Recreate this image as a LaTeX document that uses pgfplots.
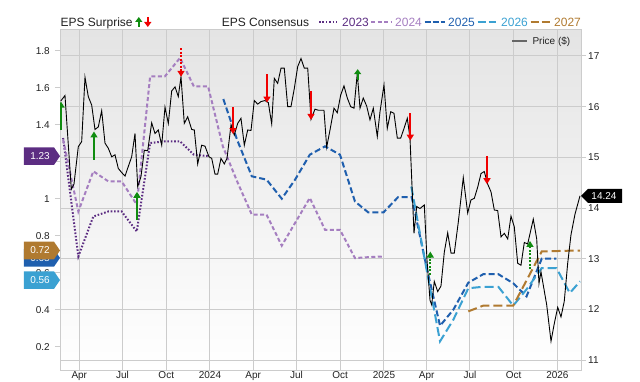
\documentclass[border=0pt]{standalone}
\usepackage{fontspec}
\setmainfont{Liberation Sans}
\usepackage{pgfplots}
\pgfplotsset{compat=1.18, set layers}
\usetikzlibrary{arrows.meta}
\definecolor{cA}{RGB}{92,45,130}
\definecolor{cB}{RGB}{165,126,192}
\definecolor{cC}{RGB}{31,95,174}
\definecolor{cD}{RGB}{59,161,210}
\definecolor{cE}{RGB}{176,122,48}
\definecolor{gridc}{RGB}{204,204,204}
\definecolor{bgtop}{RGB}{228,228,228}
\definecolor{upc}{RGB}{16,140,16}
\definecolor{dnc}{RGB}{240,0,0}
\definecolor{txt}{RGB}{34,34,34}
\newcommand{\tfont}{\fontsize{10bp}{12bp}\selectfont}
\newcommand{\lfont}{\fontsize{12bp}{14bp}\selectfont}
\begin{document}
\begin{tikzpicture}
\begin{axis}[
  name=eps, at={(0,0)}, anchor=south west,
  width=521bp, height=340bp, scale only axis,
  xmin=49.4, xmax=1145.6, ymin=0.074, ymax=1.912,
  axis background/.style={shade, top color=bgtop, middle color=white, bottom color=white},
  axis line style={draw=gridc, line width=1bp},
  xtick={90,181,273,365,456,547,639,731,821,912,1004,1096},
  xticklabels={Apr,Jul,Oct,2024,Apr,Jul,Oct,2025,Apr,Jul,Oct,2026},
  xmajorgrids, grid style={draw=gridc, line width=1bp},
  xtick style={draw=none},
  ytick={0.2,0.4,0.6,0.8,1,1.2,1.4,1.6,1.8},
  yticklabels={0.2,0.4,0.6,0.8,1,1.2,1.4,1.6,1.8},
  ytick pos=left, tick align=outside, major tick length=5bp,
  ytick style={draw=gridc, line width=1bp},
  xticklabel style={font=\tfont, text=txt, inner sep=0pt, yshift=3.5bp},
  yticklabel style={font=\tfont, text=txt, inner sep=0pt, xshift=-5bp},
]
\addplot[cA, line width=2bp, dash pattern=on 1.6bp off 1.8bp] coordinates {
(56,1.328) (88,0.688) (119.5,0.904) (151,0.931) (179,0.931) (211,0.823) (239,1.301) (270,1.310) (302,1.310) (331,1.238) (361,1.23)};
\addplot[cB, line width=2bp, dash pattern=on 4bp off 2.5bp] coordinates {
(56,1.319) (88,0.931) (119.5,1.148) (151,1.094) (179,1.094) (211,0.968) (239,1.661) (270,1.661) (302,1.761) (331,1.607) (361,1.607) (392,1.283) (422,1.094) (453,0.914) (484,0.914) (516,0.746) (544,0.869) (575,1.004) (607,0.832) (638.5,0.832) (670,0.679) (698,0.684) (730,0.688)};
\addplot[cC, line width=2bp, dash pattern=on 6bp off 3bp] coordinates {
(393,1.539) (422,1.319) (453,1.121) (484,1.103) (516,1.0) (544,1.103) (575,1.238) (607,1.283) (638.5,1.238) (670,0.985) (698,0.926) (730,0.926) (761,1.009) (789.4,1.009) (819.5,0.643) (849,0.313) (877,0.4) (908.5,0.546) (940,0.592) (971.6,0.592) (1003,0.543) (1031,0.472) (1063,0.676) (1094,0.676)};
\addplot[cD, line width=2bp, dash pattern=on 9bp off 4bp] coordinates {
(788.5,1.066) (819.5,0.634) (849,0.229) (877,0.346) (908.5,0.516) (940,0.524) (971.6,0.524) (1003,0.422) (1031,0.51) (1063,0.625) (1094,0.625) (1122,0.490) (1143.5,0.553)};
\addplot[cE, line width=2bp, dash pattern=on 9bp off 4bp] coordinates {
(908.5,0.391) (940,0.422) (971.6,0.422) (1003,0.422) (1031,0.558) (1063,0.715) (1094,0.717) (1122,0.719) (1143.5,0.719)};
\coordinate (bA) at (axis cs:49.4,1.23);
\coordinate (bC) at (axis cs:49.4,0.68);
\coordinate (bE) at (axis cs:49.4,0.72);
\coordinate (bD) at (axis cs:49.4,0.56);
\end{axis}
\begin{axis}[
  at={(0,0)}, anchor=south west,
  width=521bp, height=340bp, scale only axis,
  xmin=49.4, xmax=1145.6, ymin=10.803, ymax=17.513,
  axis y line*=right, axis x line=none,
  axis line style={draw=gridc, line width=1bp},
  ytick={11,12,13,14,15,16,17},
  yticklabels={11,12,13,14,15,16,17},
  ymajorgrids, grid style={draw=gridc, line width=1bp},
  tick align=outside, major tick length=5bp,
  ytick style={draw=gridc, line width=1bp},
  yticklabel style={font=\tfont, text=txt, inner sep=0pt, xshift=2bp},
]
\addplot[black, line width=0.9bp] coordinates {
(50.9,16.11) (59.9,16.22) (73.2,14.37) (78.8,14.47) (87.9,15.21) (95.0,15.31) (102.0,16.58) (108.9,16.20) (116.1,16.03) (123.0,15.55) (130.0,15.60) (137.1,15.92) (144.1,15.28) (151.0,15.18) (158.2,15.01) (165.1,15.05) (172.1,14.78) (179.2,14.70) (186.2,14.63) (193.1,14.82) (200.2,15.01) (207.2,15.47) (212.9,14.42) (219.8,14.62) (226.8,15.14) (233.9,15.13) (242.3,15.68) (249.3,15.47) (256.2,15.54) (263.4,15.24) (270.3,15.99) (277.3,15.67) (284.4,16.31) (291.4,16.39) (298.3,16.20) (304.0,16.59) (310.9,15.67) (318.1,15.80) (326.5,15.55) (332.0,15.54) (339.1,14.87) (347.5,15.24) (354.5,15.22) (362.9,15.01) (368.6,14.98) (375.5,14.67) (381.2,14.67) (388.1,14.98) (395.1,14.87) (400.8,14.98) (409.2,15.64) (416.1,15.44) (423.3,15.67) (430.2,15.77) (437.2,15.24) (444.3,15.54) (451.3,15.53) (458.2,16.12) (465.4,16.05) (472.3,16.10) (480.7,16.12) (487.7,16.08) (494.8,15.66) (500.3,16.56) (507.4,16.46) (514.4,16.76) (521.3,16.76) (528.5,16.00) (535.4,16.00) (542.4,16.36) (549.5,16.79) (556.5,16.95) (563.4,16.76) (570.6,16.76) (577.5,15.75) (585.9,15.95) (592.9,15.93) (604.8,15.93) (610.5,15.20) (617.5,15.54) (625.9,15.97) (632.8,15.88) (640.0,16.23) (646.9,16.41) (653.9,16.17) (661.0,16.00) (668.0,15.97) (674.9,16.66) (680.6,15.97) (687.5,16.17) (694.7,16.01) (701.6,15.74) (708.6,15.97) (717.0,15.41) (722.7,15.90) (731.1,16.43) (738.0,15.57) (745.2,15.90) (752.1,15.87) (759.1,15.38) (766.2,15.38) (773.2,15.57) (780.1,15.77) (785.8,15.38) (794.2,13.50) (799.9,14.03) (806.8,13.99) (815.9,14.06) (821.6,12.97) (827.9,12.18) (831.4,12.09) (836.9,12.55) (844.1,12.35) (851.0,12.46) (858.0,13.13) (865.1,13.51) (872.1,13.11) (879.0,13.11) (887.4,13.72) (897.9,14.60) (907.2,13.90) (914.1,14.16) (921.1,14.19) (928.2,14.41) (935.2,14.68) (942.1,14.72) (949.3,14.47) (956.2,14.32) (963.2,13.96) (970.3,13.95) (977.3,13.43) (984.2,13.50) (991.4,13.39) (998.3,13.84) (1005.2,13.63) (1012.4,12.91) (1019.3,12.87) (1026.3,13.32) (1033.4,13.29) (1045.2,13.78) (1052.4,13.39) (1057.2,12.51) (1061.4,12.74) (1073.4,12.09) (1082.5,11.37) (1089.4,11.72) (1096.6,12.04) (1103.5,11.85) (1110.4,12.16) (1117.6,12.91) (1124.5,13.47) (1133.0,13.88) (1143.5,14.24)};
% EPS surprise arrows
\addplot[upc, line width=2bp, -{Triangle[width=7bp,length=6bp]}] coordinates {(51.5,15.54) (51.5,16.10)};
\addplot[upc, line width=2bp, -{Triangle[width=7bp,length=6bp]}] coordinates {(120.9,14.95) (120.9,15.51)};
\addplot[upc, line width=2bp, -{Triangle[width=7bp,length=6bp]}] coordinates {(211.4,13.76) (211.4,14.32)};
\addplot[dnc, line width=2bp, dash pattern=on 2bp off 1.5bp, -{Triangle[width=7bp,length=6bp]}] coordinates {(304,17.15) (304,16.59)};
\addplot[dnc, line width=2bp, -{Triangle[width=7bp,length=6bp]}] coordinates {(413.4,15.99) (413.4,15.46)};
\addplot[dnc, line width=2bp, -{Triangle[width=7bp,length=6bp]}] coordinates {(484.9,16.64) (484.9,16.08)};
\addplot[dnc, line width=2bp, -{Triangle[width=7bp,length=6bp]}] coordinates {(577.5,16.31) (577.5,15.74)};
\addplot[upc, line width=2bp, -{Triangle[width=7bp,length=5bp]}] coordinates {(675.7,16.52) (675.7,16.74)};
\addplot[dnc, line width=2bp, -{Triangle[width=7bp,length=6bp]}] coordinates {(786.4,15.87) (786.4,15.33)};
\addplot[upc, line width=2bp, dash pattern=on 2bp off 1.5bp, -{Triangle[width=7bp,length=6bp]}] coordinates {(828.5,12.68) (828.5,13.14)};
\addplot[dnc, line width=2bp, -{Triangle[width=7bp,length=6bp]}] coordinates {(947.8,15.03) (947.8,14.47)};
\addplot[upc, line width=2bp, dash pattern=on 2bp off 1.5bp, -{Triangle[width=7bp,length=6bp]}] coordinates {(1038.3,12.79) (1038.3,13.35)};
\coordinate (bP) at (axis cs:1145.6,14.24);
\end{axis}
% value badges
\fill[cA] (bA) -- ++(-6bp,8.8bp) -- ++(-30bp,0) -- ++(0,-17.6bp) -- ++(30bp,0) -- cycle;
\node[text=white, font=\tfont, inner sep=0pt] at ([xshift=-20bp]bA) {1.23};
\fill[cC] (bC) -- ++(-6bp,8.8bp) -- ++(-30bp,0) -- ++(0,-17.6bp) -- ++(30bp,0) -- cycle;
\node[text=white, font=\tfont, inner sep=0pt] at ([xshift=-20bp]bC) {0.68};
\fill[cE] (bE) -- ++(-6bp,8.8bp) -- ++(-30bp,0) -- ++(0,-17.6bp) -- ++(30bp,0) -- cycle;
\node[text=white, font=\tfont, inner sep=0pt] at ([xshift=-20bp]bE) {0.72};
\fill[cD] (bD) -- ++(-6bp,8.8bp) -- ++(-30bp,0) -- ++(0,-17.6bp) -- ++(30bp,0) -- cycle;
\node[text=white, font=\tfont, inner sep=0pt] at ([xshift=-20bp]bD) {0.56};
\fill[black] (bP) -- ++(7bp,7bp) -- ++(34bp,0) -- ++(0,-14bp) -- ++(-34bp,0) -- cycle;
\node[text=white, font=\tfont, inner sep=0pt] at ([xshift=23bp]bP) {14.24};
% top legend
\node[anchor=base west, inner sep=0pt, font=\lfont, text=txt] at (0.4bp,343bp) {EPS Surprise};
\draw[upc, line width=2bp, -{Triangle[width=7bp,length=5bp]}] (78.8bp,343bp) -- (78.8bp,353bp);
\draw[dnc, line width=2bp, -{Triangle[width=7bp,length=5bp]}] (87.8bp,353bp) -- (87.8bp,343bp);
\node[anchor=base west, inner sep=0pt, font=\lfont, text=txt] at (161.6bp,343bp) {EPS Consensus};
\draw[cA, line width=2bp, dash pattern=on 1.6bp off 1.8bp] (259bp,348.3bp) -- (277bp,348.3bp);
\node[anchor=base west, inner sep=0pt, font=\lfont, text=cA] at (282bp,343bp) {2023};
\draw[cB, line width=2bp, dash pattern=on 4bp off 2.5bp] (311bp,348.3bp) -- (332bp,348.3bp);
\node[anchor=base west, inner sep=0pt, font=\lfont, text=cB] at (335bp,343bp) {2024};
\draw[cC, line width=2bp, dash pattern=on 6bp off 2bp] (364.5bp,348.3bp) -- (385bp,348.3bp);
\node[anchor=base west, inner sep=0pt, font=\lfont, text=cC] at (388bp,343bp) {2025};
\draw[cD, line width=2bp, dash pattern=on 8bp off 3bp] (417.5bp,348.3bp) -- (436bp,348.3bp);
\node[anchor=base west, inner sep=0pt, font=\lfont, text=cD] at (441bp,343bp) {2026};
\draw[cE, line width=2bp, dash pattern=on 8bp off 3bp] (470.6bp,348.3bp) -- (491bp,348.3bp);
\node[anchor=base west, inner sep=0pt, font=\lfont, text=cE] at (494bp,343bp) {2027};
% price legend
\draw[black!60, line width=1.5bp] (452.3bp,329bp) -- (466.7bp,329bp);
\node[anchor=base west, inner sep=0pt, font=\tfont, text=txt] at (472.3bp,325.5bp) {Price (\$)};
\pgfresetboundingbox
\path (-60bp,-12bp) rectangle (580bp,370bp);
\end{tikzpicture}
\end{document}
